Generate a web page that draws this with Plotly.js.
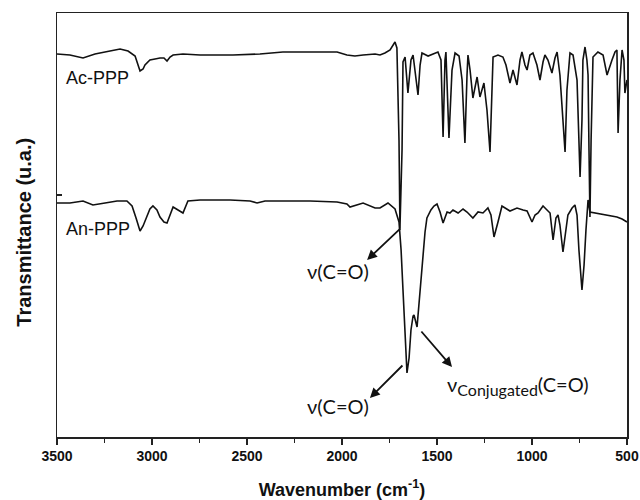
<!DOCTYPE html>
<html>
<head>
<meta charset="utf-8">
<script src="https://cdn.plot.ly/plotly-3.0.1.min.js"></script>
<style>html,body{margin:0;padding:0;background:#fff;}#chart{width:640px;height:500px;}</style>
</head>
<body>
<div id="chart"></div>
<script>
// Wavenumbers (cm-1) and transmittance (arbitrary units)
const acWavenumber = [3500,3432,3363,3300,3221,3168,3126,3089,3063,3047,3037,3011,2984,2958,2937,2921,2905,2889,2837,2747,2574,2432,2311,2168,2026,1974,1932,1889,1826,1800,1774,1747,1721,1711,1700,1695,1684,1679,1668,1653,1637,1626,1616,1600,1589,1579,1547,1516,1495,1479,1468,1458,1453,1437,1421,1405,1384,1368,1353,1342,1337,1326,1311,1289,1274,1253,1237,1221,1211,1205,1179,1153,1137,1116,1100,1079,1063,1053,1037,1026,1011,995,974,958,942,932,916,895,879,868,853,837,826,816,800,784,763,747,737,732,721,711,705,700,695,689,679,653,626,605,589,579,563,553,547,537,526,516,511,500];
const acTransmittance = [383,382,379,383,386,388,386,381,366,368,372,377,378,379,379,376,380,382,383,382,382,383,385,385,385,382,381,382,383,382,384,387,395,389,297,209,287,375,380,344,377,382,367,342,372,384,381,383,385,377,300,377,385,299,367,384,381,357,294,362,382,367,339,360,340,354,327,285,337,380,382,380,372,354,367,352,377,385,372,367,382,384,372,357,375,382,377,364,379,385,362,322,285,347,384,382,357,260,317,377,390,377,362,287,220,297,380,385,382,362,372,377,385,387,304,357,387,377,344,357];

const anWavenumber = [3500,3432,3363,3311,3247,3184,3132,3105,3084,3063,3047,3032,3011,2995,2974,2958,2937,2921,2905,2889,2863,2837,2811,2747,2589,2484,2447,2405,2311,2168,2026,1974,1958,1889,1826,1800,1758,1721,1700,1689,1679,1668,1658,1647,1637,1626,1621,1605,1595,1584,1574,1563,1553,1532,1516,1500,1484,1468,1447,1432,1416,1389,1363,1342,1311,1284,1258,1232,1216,1200,1179,1158,1116,1079,1047,1026,1000,984,968,942,921,905,889,874,863,853,837,821,811,789,774,763,753,737,726,716,711,705,695,668,626,589,553,526,500];
const anTransmittance = [234,234,236,232,234,236,236,231,219,206,211,219,228,231,227,220,215,214,223,230,227,224,236,237,237,236,234,236,236,236,235,233,230,234,229,229,234,228,215,187,147,97,64,79,107,121,122,110,132,152,182,205,219,227,231,233,225,214,225,224,227,224,228,225,219,225,224,229,222,200,215,231,226,229,227,226,215,222,224,231,227,224,197,219,222,212,185,207,222,229,232,222,187,147,172,207,227,237,225,224,222,221,220,218,215];

const xTickVals = [3500,3000,2500,2000,1500,1000,500];
const xTickText = ['3500','3000','2500','2000','1500','1000','500'];
const seriesNames = ['Ac-PPP','An-PPP'];

const lineStyle = {color:'#111', width:1.6};
const traces = [
  {x: acWavenumber, y: acTransmittance, mode:'lines', line: lineStyle, name: seriesNames[0], hoverinfo:'skip'},
  {x: anWavenumber, y: anTransmittance, mode:'lines', line: lineStyle, name: seriesNames[1], hoverinfo:'skip'}
];

const labFont = {family:'Lato, "Open Sans", sans-serif', size:20, color:'#111'};
const nameFont = {family:'"Liberation Sans", Arial, sans-serif', size:18, color:'#111'};
const arrowBase = {text:'', showarrow:true, arrowhead:2, arrowsize:1.1, arrowwidth:1.8, arrowcolor:'#111', xref:'x', yref:'y', axref:'x', ayref:'y'};

const layout = {
  width:640, height:500,
  margin:{l:57, r:13, t:13, b:63},
  paper_bgcolor:'#fff', plot_bgcolor:'#fff',
  showlegend:false,
  xaxis:{
    range:[3500,500], autorange:false, automargin:false,
    tickvals:xTickVals, ticktext:xTickText,
    ticks:'outside', ticklen:6, tickwidth:1.3, tickcolor:'#222',
    minor:{dtick:250, ticks:'outside', ticklen:4, tickwidth:1.3, tickcolor:'#222'},
    showline:true, linecolor:'#222', linewidth:1.5, mirror:true,
    showgrid:false, zeroline:false,
    tickfont:{family:'"Liberation Sans", Arial, sans-serif', size:14, color:'#111', weight:'bold'},
    title:{text:'Wavenumber (cm<sup>-1</sup>)', standoff:20, font:{family:'"Liberation Sans", Arial, sans-serif', size:18, color:'#111', weight:'bold'}}
  },
  yaxis:{
    range:[0,424], autorange:false, automargin:false,
    tickvals:[242], showticklabels:false,
    ticks:'inside', ticklen:5, tickwidth:1.3, tickcolor:'#222',
    showline:true, linecolor:'#222', linewidth:1.5, mirror:true,
    showgrid:false, zeroline:false
  },
  annotations:[
    {text:'Transmittance (u.a.)', xref:'paper', yref:'paper', x:-0.058, y:0.484, xanchor:'center', yanchor:'middle', textangle:-90, showarrow:false,
     font:{family:'"Liberation Sans", Arial, sans-serif', size:20, color:'#111', weight:'bold'}},
    {text:seriesNames[0], xref:'paper', yref:'y', x:0.012, y:359, xanchor:'left', yanchor:'middle', showarrow:false, font:nameFont},
    {text:seriesNames[1], xref:'paper', yref:'y', x:0.012, y:208, xanchor:'left', yanchor:'middle', showarrow:false, font:nameFont},
    Object.assign({}, arrowBase, {x:1868, y:177, ax:1684, ay:210}),
    Object.assign({}, arrowBase, {x:1853, y:39, ax:1674, ay:73}),
    Object.assign({}, arrowBase, {x:1421, y:70, ax:1589, ay:107}),
    {text:'ν(C=O)', xref:'x', yref:'y', x:2021, y:166, xanchor:'center', yanchor:'middle', showarrow:false, font:labFont},
    {text:'ν(C=O)', xref:'x', yref:'y', x:2021, y:31, xanchor:'center', yanchor:'middle', showarrow:false, font:labFont},
    {text:'ν<sub><span style="font-size:16px">Conjugated</span></sub>(C=O)', xref:'x', yref:'y', x:1458, y:52, xanchor:'left', yanchor:'middle', showarrow:false, font:labFont}
  ]
};

Plotly.newPlot('chart', traces, layout, {displayModeBar:false, staticPlot:true});
</script>
</body>
</html>
